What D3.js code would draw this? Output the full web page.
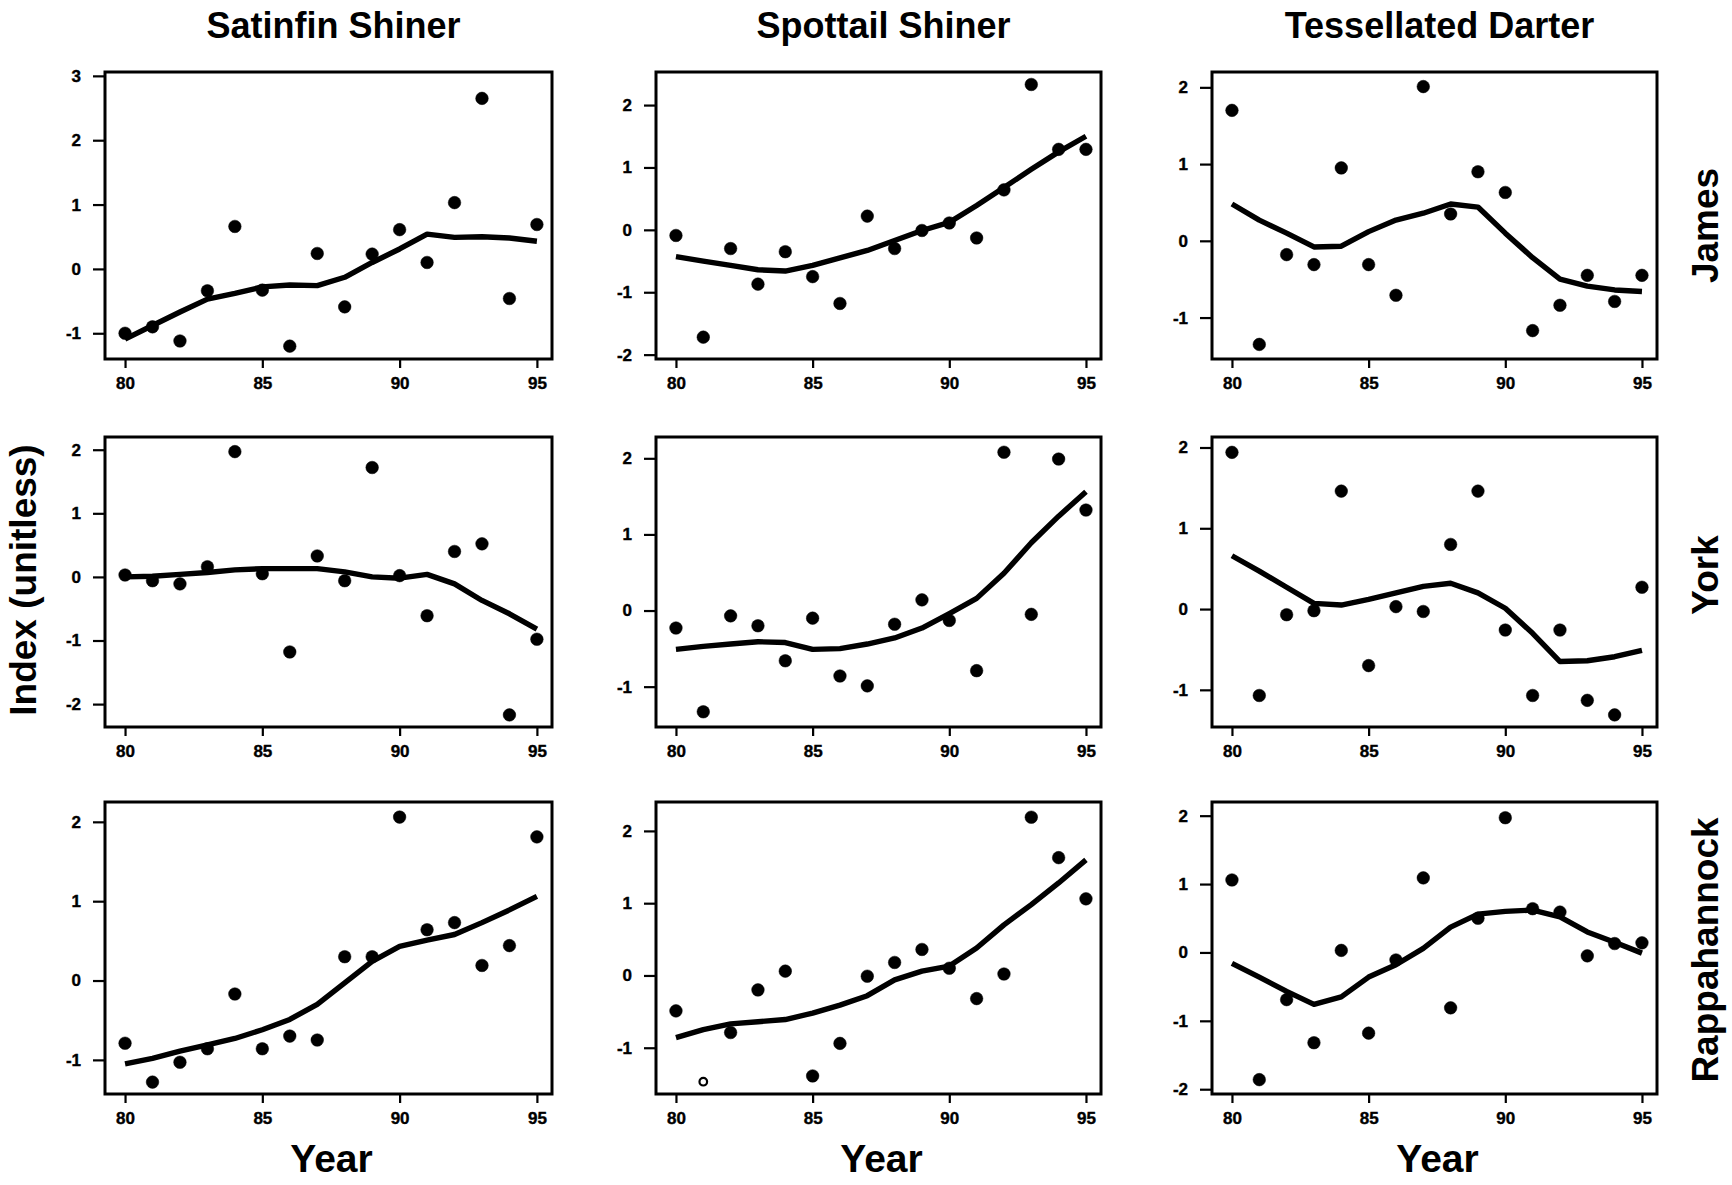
<!DOCTYPE html>
<html>
<head>
<meta charset="utf-8">
<script src="https://cdn.jsdelivr.net/npm/d3@7"></script>
<style>
  html, body { margin: 0; padding: 0; background: #fff; }
  svg { display: block; }
  text { font-family: "Liberation Sans", Arial, Helvetica, sans-serif; font-weight: bold; fill: #000; }
</style>
</head>
<body>
<svg id="chart" width="1732" height="1185"></svg>
<script>
// ---- data ----
const years = [80, 81, 82, 83, 84, 85, 86, 87, 88, 89, 90, 91, 92, 93, 94, 95];
const species = ["Satinfin Shiner", "Spottail Shiner", "Tessellated Darter"];
const rivers = ["James", "York", "Rappahannock"];
const xTicks = [80, 85, 90, 95];

const satinfinJamesPts = [-1.0, -0.9, -1.12, -0.34, 0.66, -0.33, -1.2, 0.24, -0.59, 0.23, 0.61, 0.10, 1.03, 2.65, -0.46, 0.69];
const satinfinJamesFit = [-1.09, -0.88, -0.67, -0.47, -0.38, -0.28, -0.25, -0.26, -0.13, 0.10, 0.31, 0.54, 0.49, 0.50, 0.48, 0.43];
const spottailJamesPts = [-0.09, -1.72, -0.30, -0.87, -0.35, -0.75, -1.18, 0.22, -0.30, -0.01, 0.11, -0.13, 0.64, 2.33, 1.29, 1.29];
const spottailJamesFit = [-0.43, -0.50, -0.57, -0.64, -0.66, -0.57, -0.45, -0.33, -0.17, -0.01, 0.12, 0.39, 0.68, 0.97, 1.25, 1.50];
const tessJamesPts = [1.70, -1.35, -0.18, -0.31, 0.95, -0.31, -0.71, 2.01, 0.35, 0.90, 0.63, -1.17, -0.84, -0.45, -0.79, -0.45];
const tessJamesFit = [0.48, 0.27, 0.10, -0.08, -0.07, 0.12, 0.27, 0.36, 0.48, 0.44, 0.10, -0.22, -0.50, -0.59, -0.64, -0.66];

const satinfinYorkPts = [0.03, -0.06, -0.11, 0.16, 1.97, 0.05, -1.18, 0.33, -0.06, 1.72, 0.02, -0.61, 0.40, 0.52, -2.17, -0.98];
const satinfinYorkFit = [0.0, 0.01, 0.04, 0.07, 0.11, 0.13, 0.13, 0.13, 0.08, 0.0, -0.02, 0.04, -0.11, -0.37, -0.58, -0.82];
const spottailYorkPts = [-0.23, -1.33, -0.07, -0.20, -0.66, -0.10, -0.86, -0.99, -0.18, 0.14, -0.13, -0.79, 2.08, -0.05, 1.99, 1.32];
const spottailYorkFit = [-0.51, -0.47, -0.44, -0.41, -0.42, -0.51, -0.50, -0.44, -0.36, -0.23, -0.04, 0.16, 0.49, 0.89, 1.24, 1.56];
const tessYorkPts = [1.94, -1.07, -0.07, -0.02, 1.46, -0.70, 0.03, -0.03, 0.80, 1.46, -0.26, -1.07, -0.26, -1.13, -1.31, 0.27];
const tessYorkFit = [0.66, 0.47, 0.27, 0.07, 0.05, 0.12, 0.20, 0.28, 0.32, 0.20, 0.01, -0.30, -0.65, -0.64, -0.59, -0.51];

const satinfinRappPts = [-0.79, -1.28, -1.03, -0.86, -0.17, -0.86, -0.70, -0.75, 0.30, 0.30, 2.06, 0.64, 0.73, 0.19, 0.44, 1.81];
const satinfinRappFit = [-1.05, -0.98, -0.89, -0.81, -0.73, -0.62, -0.49, -0.30, -0.03, 0.24, 0.43, 0.51, 0.58, 0.73, 0.89, 1.06];
const spottailRappPts = [-0.49, -1.47, -0.79, -0.20, 0.06, -1.39, -0.94, -0.01, 0.18, 0.36, 0.10, -0.32, 0.02, 2.19, 1.63, 1.06];
const spottailRappFit = [-0.86, -0.75, -0.67, -0.64, -0.61, -0.52, -0.41, -0.28, -0.06, 0.06, 0.13, 0.38, 0.70, 0.98, 1.28, 1.60];
const spottailRappOpen = [81];
const tessRappPts = [1.06, -1.86, -0.69, -1.32, 0.03, -1.18, -0.11, 1.09, -0.81, 0.50, 1.97, 0.64, 0.59, -0.05, 0.13, 0.14];
const tessRappFit = [-0.16, -0.36, -0.57, -0.76, -0.65, -0.36, -0.18, 0.06, 0.37, 0.56, 0.60, 0.62, 0.52, 0.30, 0.15, -0.01];

// y-axis domains per panel (row-major)
const yDomains = [
  [-1.4, 3.06], [-2.07, 2.53], [-1.54, 2.2],
  [-2.36, 2.2], [-1.53, 2.28], [-1.46, 2.13],
  [-1.43, 2.25], [-1.64, 2.40], [-2.07, 2.2]
];

const panels = [
  { pts: satinfinJamesPts, fit: satinfinJamesFit, open: [] },
  { pts: spottailJamesPts, fit: spottailJamesFit, open: [] },
  { pts: tessJamesPts, fit: tessJamesFit, open: [] },
  { pts: satinfinYorkPts, fit: satinfinYorkFit, open: [] },
  { pts: spottailYorkPts, fit: spottailYorkFit, open: [] },
  { pts: tessYorkPts, fit: tessYorkFit, open: [] },
  { pts: satinfinRappPts, fit: satinfinRappFit, open: [] },
  { pts: spottailRappPts, fit: spottailRappFit, open: spottailRappOpen },
  { pts: tessRappPts, fit: tessRappFit, open: [] }
];

// ---- layout ----
const colX = [[105, 552], [656, 1101], [1212, 1657]];
const rowY = [[72, 359], [437, 727], [802, 1094]];
const rowLabelShift = [10, -7, 2];

const svg = d3.select("#chart");

panels.forEach((p, i) => {
  const r = Math.floor(i / 3), c = i % 3;
  const [x0, x1] = colX[c];
  const [y0, y1] = rowY[r];
  const x = d3.scaleLinear().domain([79.27, 95.55]).range([x0, x1]);
  const y = d3.scaleLinear().domain(yDomains[i]).range([y1, y0]);
  const g = svg.append("g");

  const dom = yDomains[i];
  const yt = d3.range(Math.ceil(dom[0]), Math.floor(dom[1]) + 1);

  const yAxis = g.append("g")
    .attr("transform", `translate(${x0},0)`)
    .call(d3.axisLeft(y).tickValues(yt).tickFormat(d => String(d)).tickSize(12).tickPadding(12));
  const xAxis = g.append("g")
    .attr("transform", `translate(0,${y1})`)
    .call(d3.axisBottom(x).tickValues(xTicks).tickFormat(d => String(d)).tickSize(9).tickPadding(9));
  [yAxis, xAxis].forEach(a => {
    a.select(".domain").remove();
    a.selectAll(".tick line").attr("stroke", "#000").attr("stroke-width", 2.2);
    a.selectAll(".tick text").style("font-size", "17px").style("font-weight", "bold")
      .style("font-family", "'Liberation Sans', Arial, sans-serif").attr("fill", "#000")
      .attr("stroke", "#000").attr("stroke-width", 0.4);
  });

  // frame
  g.append("rect")
    .attr("x", x0).attr("y", y0).attr("width", x1 - x0).attr("height", y1 - y0)
    .attr("fill", "none").attr("stroke", "#000").attr("stroke-width", 3);

  // fitted line
  g.append("path")
    .datum(years.map((yr, k) => [yr, p.fit[k]]))
    .attr("fill", "none").attr("stroke", "#000").attr("stroke-width", 5.4)
    .attr("stroke-linejoin", "round")
    .attr("d", d3.line().x(d => x(d[0])).y(d => y(d[1])).curve(d3.curveLinear));

  // points
  g.selectAll("circle.pt")
    .data(years.map((yr, k) => ({ yr, v: p.pts[k], open: p.open.includes(yr) })))
    .join("circle")
    .attr("class", "pt")
    .attr("cx", d => x(d.yr)).attr("cy", d => y(d.v))
    .attr("r", d => d.open ? 3.8 : 6.3)
    .attr("fill", d => d.open ? "#fff" : "#000")
    .attr("stroke", "#000")
    .attr("stroke-width", d => d.open ? 2.2 : 0.5);
});

// column titles
species.forEach((s, c) => {
  svg.append("text")
    .attr("x", (colX[c][0] + colX[c][1]) / 2 + 5).attr("y", 38)
    .attr("text-anchor", "middle").style("font-size", "36px")
    .text(s);
});

// row labels (right)
rivers.forEach((rv, r) => {
  const cy = (rowY[r][0] + rowY[r][1]) / 2 + rowLabelShift[r];
  svg.append("text")
    .attr("transform", `translate(1718,${cy}) rotate(-90)`)
    .attr("text-anchor", "middle").style("font-size", "37px")
    .text(rv);
});

// x-axis titles
colX.forEach(([a, b]) => {
  svg.append("text")
    .attr("x", (a + b) / 2 + 3).attr("y", 1172)
    .attr("text-anchor", "middle").style("font-size", "39px")
    .text("Year");
});

// y-axis title
svg.append("text")
  .attr("transform", "translate(36,580) rotate(-90)")
  .attr("text-anchor", "middle").style("font-size", "37px")
  .text("Index (unitless)");
</script>
</body>
</html>
